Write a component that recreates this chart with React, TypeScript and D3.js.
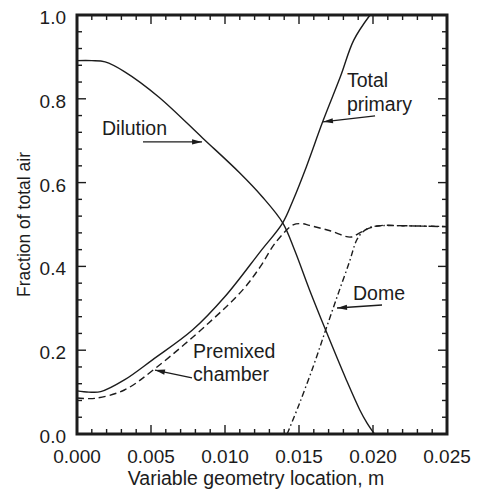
import React from "react";
import * as d3 from "d3";

// ---- data (fraction of total air vs variable geometry location, m) ----
const dilution: [number, number][] = [
  [0, 0.891], [0.001, 0.891], [0.0019, 0.888], [0.0032, 0.865], [0.0055, 0.805],
  [0.0085, 0.706], [0.011, 0.623], [0.0125, 0.567], [0.0139, 0.504], [0.0147, 0.439],
  [0.0157, 0.345], [0.0168, 0.248], [0.0182, 0.129], [0.0191, 0.058], [0.0196, 0.026],
  [0.0201, 0.0],
];
const totalPrimary: [number, number][] = [
  [0, 0.103], [0.0008, 0.1], [0.0016, 0.101], [0.0032, 0.129], [0.0051, 0.177],
  [0.0078, 0.248], [0.01, 0.328], [0.0124, 0.436], [0.0139, 0.504],
  [0.0146, 0.558], [0.0155, 0.638], [0.0166, 0.745], [0.0178, 0.853], [0.0187, 0.94],
  [0.0198, 1.0],
];
const premixedChamber: [number, number][] = [
  [0, 0.086], [0.0012, 0.085], [0.0032, 0.105], [0.0053, 0.157], [0.0089, 0.265],
  [0.0112, 0.344], [0.0124, 0.4], [0.0134, 0.456], [0.0146, 0.499], [0.0152, 0.502],
  [0.0157, 0.498], [0.0171, 0.485], [0.0185, 0.47], [0.0191, 0.48], [0.0198, 0.492],
  [0.0207, 0.498], [0.022, 0.497], [0.025, 0.495],
];
const dome: [number, number][] = [
  [0.0142, 0.0], [0.015, 0.07], [0.016, 0.165], [0.0168, 0.248], [0.0176, 0.33],
  [0.0184, 0.41], [0.0189, 0.463], [0.0193, 0.482], [0.0198, 0.493], [0.0205, 0.497],
  [0.022, 0.497], [0.025, 0.495],
];

const xMajorTicks = [0, 0.005, 0.01, 0.015, 0.02, 0.025];
const xTickLabels = ["0.000", "0.005", "0.010", "0.015", "0.020", "0.025"];
const yMajorTicks = [0, 0.2, 0.4, 0.6, 0.8, 1.0];
const yTickLabels = ["0.0", "0.2", "0.4", "0.6", "0.8", "1.0"];
const xMinorStep = 0.001;
const yMinorStep = 0.04;

const xTitle = "Variable geometry location, m";
const yTitle = "Fraction of total air";

// annotations in data coordinates
const labels = [
  { lines: ["Dilution"], x: 0.00169, y: [0.7136] },
  { lines: ["Total", "primary"], x: 0.01824, y: [0.828, 0.771] },
  { lines: ["Premixed", "chamber"], x: 0.00784, y: [0.1814, 0.1253] },
  { lines: ["Dome"], x: 0.01865, y: [0.3198] },
];
const arrows = [
  { from: [0.00446, 0.697], to: [0.00845, 0.697] },
  { from: [0.02014, 0.759], to: [0.01662, 0.745] },
  { from: [0.00777, 0.1337], to: [0.00527, 0.1527] },
  { from: [0.02061, 0.3079], to: [0.01757, 0.3007] },
];

const W = 478;
const H = 496;
const L = 77, R = 447, T = 15, B = 434;
const FONT = "'Liberation Sans', Arial, Helvetica, sans-serif";
const INK = "#1c1c1c";

export default function App() {
  const x = d3.scaleLinear().domain([0, 0.025]).range([L, R]);
  const y = d3.scaleLinear().domain([0, 1]).range([B, T]);
  const line = d3
    .line<[number, number]>()
    .x((d) => x(d[0]))
    .y((d) => y(d[1]))
    .curve(d3.curveCatmullRom.alpha(0.5));

  const xMinor = d3.range(0, 0.025 + 1e-9, xMinorStep);
  const yMinor = d3.range(0, 1 + 1e-9, yMinorStep);
  const isMajor = (v: number, step: number) =>
    Math.abs(v / step - Math.round(v / step)) < 1e-6;

  const MAJ = 9, MIN = 5;

  const arrowHead = (fx: number, fy: number, tx: number, ty: number) => {
    const ang = Math.atan2(ty - fy, tx - fx);
    const len = 10, hw = 2.6;
    const bx = tx - len * Math.cos(ang), by = ty - len * Math.sin(ang);
    const px = -Math.sin(ang) * hw, py = Math.cos(ang) * hw;
    return `M${tx},${ty}L${bx + px},${by + py}L${bx - px},${by - py}Z`;
  };

  return (
    <svg
      width={W}
      height={H}
      style={{ position: "absolute", left: 0, top: 0, background: "#fff" }}
    >
      <rect x={0} y={0} width={W} height={H} fill="#fff" />
      {/* ticks: bottom & top */}
      {xMinor.map((v, i) => {
        const len = isMajor(v, 0.005) ? MAJ : MIN;
        return (
          <g key={"xt" + i} stroke={INK} strokeWidth={1.4}>
            <line x1={x(v)} x2={x(v)} y1={B} y2={B - len} />
            <line x1={x(v)} x2={x(v)} y1={T} y2={T + len} />
          </g>
        );
      })}
      {yMinor.map((v, i) => {
        const len = isMajor(v, 0.2) ? MAJ : MIN;
        return (
          <g key={"yt" + i} stroke={INK} strokeWidth={1.4}>
            <line x1={L} x2={L + len} y1={y(v)} y2={y(v)} />
            <line x1={R} x2={R - len} y1={y(v)} y2={y(v)} />
          </g>
        );
      })}
      {/* frame */}
      <rect
        x={L}
        y={T}
        width={R - L}
        height={B - T}
        fill="none"
        stroke={INK}
        strokeWidth={3}
      />
      {/* tick labels */}
      {xMajorTicks.map((v, i) => (
        <text
          key={"xl" + i}
          x={x(v)}
          y={463}
          textAnchor="middle"
          fontFamily={FONT}
          fontSize={19}
          fill={INK}
        >
          {xTickLabels[i]}
        </text>
      ))}
      {yMajorTicks.map((v, i) => (
        <text
          key={"yl" + i}
          x={66}
          y={y(v) + 9}
          textAnchor="end"
          fontFamily={FONT}
          fontSize={19}
          fill={INK}
        >
          {yTickLabels[i]}
        </text>
      ))}
      {/* axis titles */}
      <text
        x={256}
        y={485}
        textAnchor="middle"
        fontFamily={FONT}
        fontSize={19.5}
        fill={INK}
      >
        {xTitle}
      </text>
      <text
        transform={`translate(30,${(T + B) / 2}) rotate(-90)`}
        textAnchor="middle"
        fontFamily={FONT}
        fontSize={17.5}
        fill={INK}
      >
        {yTitle}
      </text>
      {/* curves */}
      <g fill="none" stroke={INK} strokeWidth={1.4}>
        <path d={line(dilution) || ""} />
        <path d={line(totalPrimary) || ""} />
        <path d={line(premixedChamber) || ""} strokeDasharray="7,4" />
        <path d={line(dome) || ""} strokeDasharray="6,3,1.5,3" />
      </g>
      {/* annotations */}
      {labels.map((lb, i) =>
        lb.lines.map((t, j) => (
          <text
            key={"lb" + i + "_" + j}
            x={x(lb.x)}
            y={y(lb.y[j])}
            fontFamily={FONT}
            fontSize={19.5}
            fill={INK}
          >
            {t}
          </text>
        ))
      )}
      {arrows.map((a, i) => {
        const fx = x(a.from[0]), fy = y(a.from[1]);
        const tx = x(a.to[0]), ty = y(a.to[1]);
        return (
          <g key={"ar" + i}>
            <line x1={fx} y1={fy} x2={tx} y2={ty} stroke={INK} strokeWidth={1.3} />
            <path d={arrowHead(fx, fy, tx, ty)} fill={INK} />
          </g>
        );
      })}
    </svg>
  );
}
